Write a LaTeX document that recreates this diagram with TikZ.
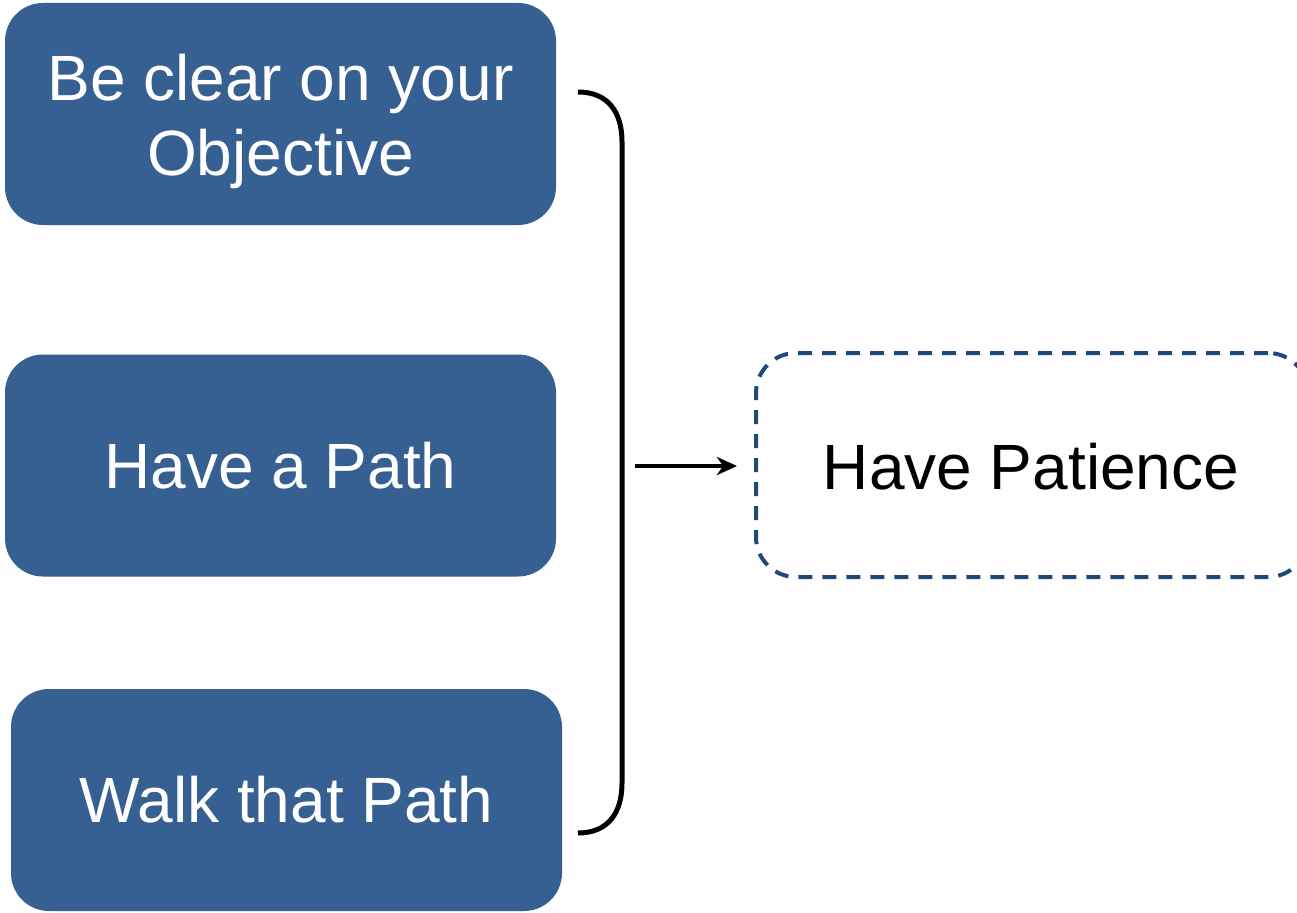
\documentclass[tikz,border=0pt]{standalone}
\usepackage{fontspec}
\setmainfont{Liberation Sans}
\usetikzlibrary{arrows.meta}
\definecolor{boxblue}{HTML}{376092}
\definecolor{dashblue}{HTML}{1F497D}
\begin{document}
\begin{tikzpicture}[x=1pt,y=-1pt,
  bluebox/.style={draw=none,fill=boxblue,rounded corners=38pt,minimum width=551pt,minimum height=222pt,text=white,font=\fontsize{64}{75}\selectfont,align=center,inner sep=0pt},
  dashbox/.style={draw=dashblue,dash pattern=on 14pt off 10pt,line width=4pt,rounded corners=40pt,minimum width=552pt,minimum height=224pt,font=\fontsize{64}{75}\selectfont,inner sep=0pt},
  brace/.style={line width=5pt},
  arr/.style={line width=4pt,-{Stealth[length=20pt,width=18pt,inset=6pt]}}]
\useasboundingbox (0,0) rectangle (1297,912);
\node[bluebox] (a) at (280.5,114) {\raisebox{-7pt}[\height][\depth]{\parbox{551pt}{\centering Be clear on your\\Objective}}};
\node[bluebox] (b) at (280.5,465.5) {Have a Path};
\node[bluebox] (c) at (286.5,800) {Walk that Path};
\node[dashbox] (p) at (1032,465) {};
\node at (1031,467) {\fontsize{64}{75}\selectfont Have Patience};
\coordinate (t0) at (578,92);
\coordinate (b0) at (578,833);
\coordinate (m0) at (635,466);
\draw[brace] (t0) .. controls (608,92) and (622,112) .. (622,142) -- (622,783) .. controls (622,813) and (608,833) .. (b0);
\draw[arr] (m0) -- ([xshift=-17pt]p.west |- m0);
\end{tikzpicture}
\end{document}
